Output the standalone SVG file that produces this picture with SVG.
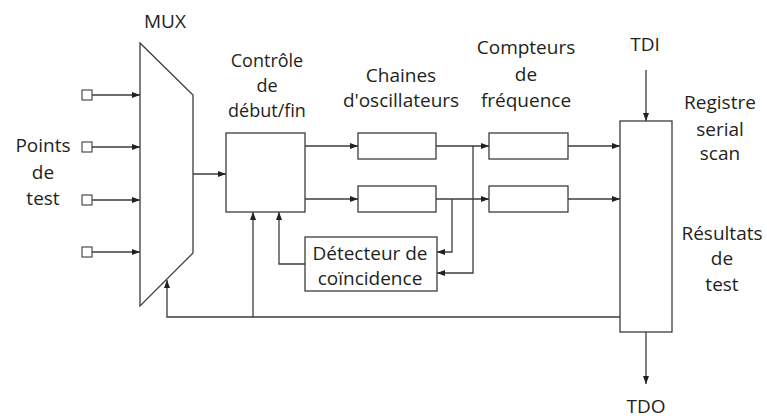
<svg xmlns="http://www.w3.org/2000/svg" width="767" height="419" viewBox="0 0 767 419">
<style>
  .box { fill: #ffffff; stroke: #3c3c3c; stroke-width: 1.3; }
  .pin { fill: #ffffff; stroke: #3c3c3c; stroke-width: 1.1; }
  .wire { fill: none; stroke: #3c3c3c; stroke-width: 1.3; }
  .arr { marker-end: url(#ah); }
  text { font-family: "Open Sans", "Noto Sans", "DejaVu Sans", sans-serif; font-size: 19px; fill: #231f20; text-anchor: middle; }
  .tight { font-size: 18px; }
</style>
<defs>
  <marker id="ah" markerUnits="userSpaceOnUse" markerWidth="9" markerHeight="7" refX="8" refY="3" orient="auto">
    <path d="M0,0 L8,3 L0,6 z" fill="#231f20"/>
  </marker>
</defs>
<rect width="767" height="419" fill="#ffffff"/>

<g id="connectors">
  <path class="wire arr" d="M92,95 H140"/>
  <path class="wire arr" d="M92,147 H140"/>
  <path class="wire arr" d="M92,200 H140"/>
  <path class="wire arr" d="M92,252 H140"/>
  <path class="wire arr" d="M193,174 H226"/>
  <path class="wire arr" d="M305,146 H358"/>
  <path class="wire arr" d="M305,199 H358"/>
  <path class="wire arr" d="M436,146 H489"/>
  <path class="wire arr" d="M436,199 H489"/>
  <path class="wire arr" d="M473,146 V273 H437"/>
  <path class="wire arr" d="M452,199 V252 H437"/>
  <path class="wire arr" d="M568,146 H620"/>
  <path class="wire arr" d="M568,199 H620"/>
  <path class="wire arr" d="M646,70 V121"/>
  <path class="wire arr" d="M646,332 V384"/>
  <path class="wire arr" d="M620,317 H167 V280"/>
  <path class="wire arr" d="M253,317 V212"/>
  <path class="wire arr" d="M305,264 H279 V212"/>
</g>

<g id="test-points">
  <rect class="pin" x="82" y="90" width="10" height="10"/>
  <rect class="pin" x="82" y="142" width="10" height="10"/>
  <rect class="pin" x="82" y="195" width="10" height="10"/>
  <rect class="pin" x="82" y="247" width="10" height="10"/>
  <text x="43" y="152">Points</text>
  <text x="43" y="179">de</text>
  <text x="43" y="205">test</text>
</g>

<g id="mux">
  <path class="box" d="M140,43 L193,95 L193,253 L140,306 Z"/>
  <text x="165" y="28">MUX</text>
</g>

<g id="controle">
  <rect class="box" x="226" y="133" width="79" height="79"/>
  <text class="tight" x="267" y="67">Contrôle</text>
  <text class="tight" x="267" y="92">de</text>
  <text class="tight" x="267" y="117">début/fin</text>
</g>

<g id="oscillateurs">
  <rect class="box" x="358" y="133" width="78" height="26"/>
  <rect class="box" x="358" y="186" width="78" height="26"/>
  <text x="401" y="82">Chaines</text>
  <text x="401" y="107">d'oscillateurs</text>
</g>

<g id="compteurs">
  <rect class="box" x="489" y="133" width="79" height="26"/>
  <rect class="box" x="489" y="186" width="79" height="26"/>
  <text x="526" y="54">Compteurs</text>
  <text x="526" y="81">de</text>
  <text x="526" y="107">fréquence</text>
</g>

<g id="detecteur">
  <rect class="box" x="305" y="237" width="132" height="54"/>
  <text x="370" y="260">Détecteur de</text>
  <text x="370" y="285">coïncidence</text>
</g>

<g id="registre">
  <rect class="box" x="620" y="121" width="52" height="211"/>
  <text x="645" y="51">TDI</text>
  <text x="646" y="413">TDO</text>
  <text x="720" y="109">Registre</text>
  <text x="720" y="136">serial</text>
  <text x="720" y="160">scan</text>
  <text x="722" y="240">Résultats</text>
  <text x="722" y="265">de</text>
  <text x="722" y="291">test</text>
</g>
</svg>
